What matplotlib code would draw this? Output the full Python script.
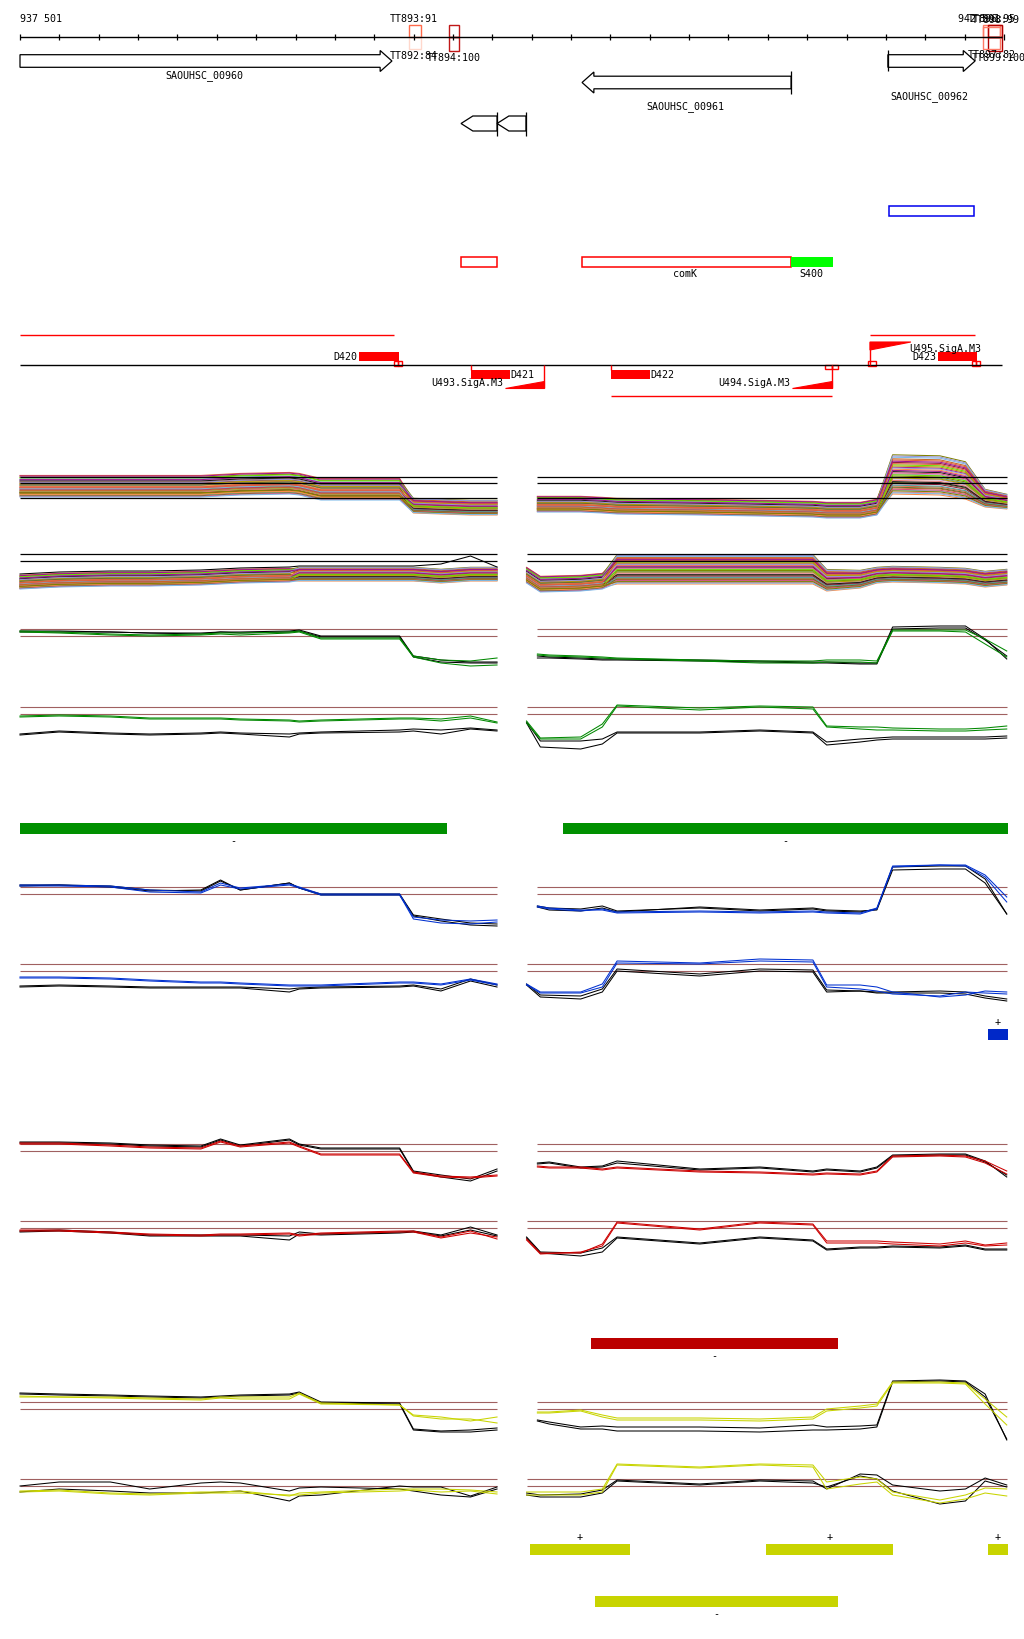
import matplotlib
matplotlib.use("Agg")
import matplotlib.pyplot as plt
from matplotlib.patches import Rectangle, Polygon

# genome window shown by the ruler
VIEW_START = 937501
VIEW_END = 942501
RULER_TICKS = list(range(937501, 942502, 200))

# genes: name, start, end, strand
GENES = [("SAOUHSC_00960", 937501, 939391, 1),
         ("SAOUHSC_00961", 940357, 941419, -1),
         ("SAOUHSC_00962", 941911, 942354, 1)]
SMALL_GENES = [(939742, 939925), (939925, 940072)]

# terminators (name:score)
TERMINATORS = [("TT893:91", 939478, 939539, "#ff6a4a"),
               ("TT894:100", 939681, 939732, "#c01818"),
               ("TT896:95", 942394, 942481, "#ff7a66"),
               ("TT898:99", 942420, 942491, "#ff5a40"),
               ("TT899:100", 942420, 942491, "#b00000")]

# transcript features
COMK_BOXES = [(939742, 939925), (940357, 941419)]
S400 = (941419, 941632)
BLUE_BOX = (941916, 942348)
RED_SEGMENTS = [(937501, 939401, 336), (941820, 942353, 336), (940504, 941627, 397)]
D_BLOCKS = [("D420", 939224, 939427, "up"), ("D421", 939793, 939991, "down"),
            ("D422", 940504, 940702, "down"), ("D423", 942165, 942364, "up")]
SIGA = [("U493.SigA.M3", 939965, 940163, "down"), ("U494.SigA.M3", 941424, 941627, "down"),
        ("U495.SigA.M3", 941820, 942028, "up")]

# probe positions for the expression panels
L_POS = [937501, 937700, 937960, 938160, 938420, 938520, 938620, 938870, 938920, 939030,
         939430, 939500, 939640, 939790, 939925]
RT_POS = [940130, 940190, 940350, 940460, 940535, 940955, 941260, 941530, 941600, 941770,
          941855, 941935, 942175, 942305, 942405, 942515]
RB_POS = [940075, 940145, 940350, 940460, 940535, 940955, 941260, 941530, 941600, 941770,
          941855, 941935, 942175, 942305, 942405, 942515]

# all-condition profiles (top envelope + spread)
MULTI_LT_TOP = [8, 8, 8, 8, 8, 9, 10, 11, 10, 5, 5, -15, -16, -17, -17]
MULTI_LT_SPREAD = [22, 22, 22, 22, 22, 22, 22, 22, 22, 22, 22, 15, 15, 15, 15]
MULTI_LB_TOP = [-14, -12, -11, -11, -10, -9, -8, -7, -6, -6, -6, -6, -8, -6, -6]
MULTI_LB_SPREAD = [14] * 15
MULTI_LB_BLACK = [-13, -11, -10, -10, -9, -8, -7, -6, -5, -5, -5, -5, -3, 5, -6]
MULTI_RT_TOP = [-13, -13, -13, -14, -15, -16, -17, -18, -19, -19, -16, 29, 28, 22, -6, -11]
MULTI_RT_SPREAD = [16, 16, 16, 16, 16, 16, 16, 16, 16, 16, 16, 40, 40, 38, 18, 15]
MULTI_RB_TOP = [-6, -15, -14, -12, 7, 7, 7, 7, -8, -9, -6, -5, -6, -7, -10, -8]
MULTI_RB_SPREAD = [16, 16, 16, 16, 30, 30, 30, 30, 22, 18, 16, 16, 16, 16, 16, 16]
MULTI_FRACS = [0.02, 0.10, 0.05, 0.18, 0.24, 0.13, 0.31, 0.27, 0.36, 0.42, 0.39, 0.47,
               0.51, 0.45, 0.56, 0.60, 0.54, 0.64, 0.68, 0.62, 0.72, 0.75, 0.70, 0.79,
               0.83, 0.77, 0.86, 0.90, 0.88, 0.94, 0.97, 0.33, 0.58, 0.81, 0.21, 1.00]
MULTI_FRACS_B = [0.15, 0.02, 0.33, 0.08, 0.50, 0.27, 0.12, 0.44, 0.21, 0.66, 0.30, 0.58,
                 0.38, 0.71, 0.47, 0.35, 0.80, 0.55, 0.41, 0.90, 0.62, 0.52, 0.85, 0.69,
                 0.74, 0.95, 0.60, 0.78, 1.00, 0.83, 0.88, 0.05, 0.24, 0.92, 0.18, 0.97]
MULTI_COLORS = ['#e0603a', '#808000', '#a0148c', '#7ab8e8', '#b48cc8', '#66dd00',
                '#c86428', '#1a1a1a', '#8c1e3c', '#e87878', '#b4a000', '#50a0a0',
                '#ff8c46', '#6e6e28', '#d25078', '#9696d2']

# condition groups: (black_a, black_b, col_a, col_b) for LT, LB, RT, RB
GREEN_LT = [[5, 5, 4, 3, 3, 4, 4, 5, 6, 0, 0, -20, -24, -26, -26],
            [4, 4, 4, 3, 2, 4, 3, 4, 5, -1, -1, -21, -26, -27, -27],
            [5, 4, 2, 1, 2, 3, 3, 4, 5, -2, -2, -20, -24, -25, -22],
            [4, 3, 1, 0, 1, 2, 1, 3, 4, -3, -3, -21, -27, -30, -29]]
GREEN_LB = [[-20, -17, -19, -20, -19, -18, -19, -20, -19, -18, -16, -15, -16, -14, -16],
            [-21, -18, -20, -21, -20, -19, -20, -23, -20, -19, -18, -17, -20, -15, -17],
            [-2, -1, -2, -4, -4, -4, -5, -6, -7, -6, -4, -4, -5, -2, -8],
            [-3, -2, -3, -5, -5, -5, -6, -7, -8, -7, -5, -5, -7, -4, -9]]
GREEN_RT = [[-20, -21, -22, -23, -23, -24, -25, -26, -26, -27, -27, 9, 10, 10, -3, -23],
            [-22, -22, -23, -24, -24, -25, -26, -27, -27, -28, -28, 7, 8, 8, -4, -20],
            [-18, -19, -20, -21, -22, -24, -25, -25, -24, -24, -25, 6, 6, 6, -3, -15],
            [-19, -20, -21, -22, -23, -25, -27, -27, -26, -26, -27, 5, 5, 4, -8, -21]]
GREEN_RB = [[-8, -27, -27, -25, -18, -18, -16, -18, -28, -25, -24, -23, -23, -23, -23, -22],
            [-9, -33, -35, -30, -19, -19, -17, -19, -31, -28, -26, -25, -25, -25, -25, -24],
            [-7, -24, -23, -10, 9, 6, 8, 7, -12, -13, -13, -14, -15, -15, -14, -12],
            [-9, -25, -25, -13, 8, 4, 7, 5, -13, -15, -16, -16, -17, -17, -16, -15]]

BLUE_LT = [[9, 9, 8, 4, 3, 13, 4, 11, 6, 0, 0, -21, -25, -29, -30],
           [8, 9, 7, 3, 4, 14, 4, 11, 6, -1, -1, -22, -27, -31, -32],
           [9, 9, 8, 4, 2, 11, 6, 10, 7, 0, 0, -23, -26, -27, -26],
           [8, 8, 7, 2, 1, 9, 5, 9, 6, -1, -1, -25, -29, -30, -28]]
BLUE_LB = [[-15, -14, -15, -16, -16, -16, -16, -18, -17, -16, -15, -14, -18, -8, -14],
           [-16, -15, -16, -17, -17, -17, -17, -21, -18, -17, -16, -15, -20, -10, -16],
           [-6, -6, -7, -9, -11, -11, -12, -14, -14, -14, -11, -11, -13, -8, -13],
           [-7, -7, -8, -10, -12, -12, -13, -15, -15, -15, -12, -12, -14, -9, -14]]
BLUE_RT = [[-12, -14, -15, -12, -17, -14, -17, -15, -17, -18, -15, 27, 28, 28, 15, -20],
           [-13, -16, -17, -14, -18, -13, -16, -14, -16, -17, -16, 24, 25, 25, 11, -20],
           [-13, -15, -17, -15, -18, -17, -18, -17, -18, -19, -14, 28, 29, 29, 19, -3],
           [-12, -14, -16, -16, -19, -18, -19, -18, -19, -20, -15, 27, 29, 28, 17, -8]]
BLUE_RB = [[-13, -24, -25, -18, 2, -3, 2, 1, -19, -20, -21, -21, -20, -21, -25, -28],
           [-14, -26, -28, -21, 0, -5, 0, -1, -21, -20, -22, -22, -22, -23, -27, -30],
           [-13, -21, -21, -13, 10, 8, 12, 11, -14, -14, -16, -21, -26, -24, -20, -21],
           [-14, -22, -22, -16, 8, 7, 10, 9, -16, -18, -20, -23, -25, -21, -22, -23]]

RED_LT = [[9, 9, 8, 6, 5, 12, 6, 12, 7, 3, 3, -20, -24, -28, -18],
          [8, 8, 7, 5, 4, 11, 5, 11, 6, 2, 2, -21, -26, -30, -20],
          [8, 8, 6, 4, 3, 10, 5, 9, 5, -3, -3, -21, -25, -26, -24],
          [7, 7, 5, 3, 2, 9, 4, 8, 4, -4, -4, -22, -26, -27, -25]]
RED_LB = [[-3, -2, -4, -7, -7, -7, -7, -8, -4, -6, -4, -3, -7, 1, -7],
          [-4, -3, -5, -8, -8, -8, -8, -12, -6, -7, -5, -4, -8, -2, -8],
          [-2, -2, -4, -6, -7, -6, -6, -5, -7, -5, -3, -3, -9, -3, -11],
          [-3, -3, -5, -7, -8, -7, -7, -6, -8, -6, -4, -4, -10, -5, -9]]
RED_RT = [[-12, -11, -16, -15, -10, -18, -16, -20, -18, -20, -16, -4, -3, -3, -10, -26],
          [-13, -12, -17, -16, -12, -19, -17, -21, -19, -21, -17, -5, -4, -4, -11, -24],
          [-15, -16, -16, -18, -16, -20, -21, -23, -22, -23, -20, -5, -4, -5, -10, -20],
          [-16, -17, -17, -19, -17, -21, -22, -24, -23, -24, -21, -6, -5, -6, -12, -23]]
RED_RB = [[-9, -24, -25, -20, -9, -15, -9, -12, -21, -19, -19, -18, -19, -17, -21, -21],
          [-10, -25, -28, -24, -10, -16, -10, -13, -22, -20, -20, -19, -20, -18, -22, -22],
          [-11, -25, -25, -16, 6, -1, 6, 4, -13, -13, -13, -14, -16, -13, -17, -15],
          [-12, -26, -24, -18, 5, -2, 5, 3, -15, -15, -15, -16, -18, -15, -18, -17]]

YEL_LT = [[16, 15, 14, 13, 12, 13, 14, 15, 17, 7, 6, -20, -22, -21, -19],
          [15, 14, 13, 12, 11, 12, 13, 14, 16, 6, 5, -21, -23, -23, -21],
          [13, 12, 12, 11, 10, 12, 12, 12, 16, 6, 4, -6, -8, -12, -8],
          [12, 12, 11, 10, 9, 11, 10, 10, 15, 5, 4, -7, -10, -10, -14]]
YEL_LB = [[0, 4, 4, -3, 3, 4, 3, -5, -2, -1, -3, -5, -9, -11, -3],
          [-6, -3, -5, -7, -7, -6, -5, -15, -10, -9, 0, -1, -1, -10, -1],
          [-5, -4, -7, -8, -6, -6, -5, -10, -7, -6, -3, -3, -3, -4, -6],
          [-6, -5, -8, -9, -7, -7, -7, -9, -9, -7, -5, -4, -6, -5, -8]]
YEL_RT = [[-11, -13, -18, -17, -18, -18, -19, -16, -18, -17, -16, 28, 29, 28, 15, -31],
          [-12, -15, -20, -20, -22, -22, -23, -21, -21, -20, -18, 27, 28, 27, 12, -30],
          [-3, -3, -1, -6, -9, -9, -10, -8, 0, 3, 5, 27, 27, 26, 10, -8],
          [-4, -4, -2, -8, -11, -11, -12, -10, -2, 1, 3, 26, 26, 25, 5, -16]]
YEL_RB = [[-7, -9, -8, -4, 6, 2, 6, 5, -3, 12, 11, 1, -5, -3, 8, 1],
          [-9, -11, -11, -7, 5, 1, 5, 3, -1, 10, 7, -5, -18, -15, 5, -1],
          [-6, -6, -6, -3, 22, 19, 22, 21, 4, 9, 7, -6, -14, -9, -2, -3],
          [-9, -9, -9, -6, 21, 18, 21, 19, -3, 2, 4, -9, -17, -13, -7, -10]]

# segment calls below each group: (start, end, strand)
GREEN_CALLS = [(937501, 939671, "-"), (940260, 942521, "-")]
BLUE_CALLS = [(942420, 942521, "+")]
RED_CALLS = [(940402, 941657, "-")]
YEL_CALLS = [(940092, 940601, "+"), (941292, 941937, "+"), (942420, 942521, "+"),
             (940423, 941657, "-")]

BP_PER_PX = (VIEW_END - VIEW_START) / 984.0
FONT = dict(family="DejaVu Sans Mono", fontsize=7.2)
BROWN = "#a06060"
LW = 0.75


def gene_poly(start, end, strand, yc, body=6.3, head=10.5, head_len=60):
    if strand > 0:
        b = end - head_len
        pts = [(start, yc - body), (b, yc - body), (b, yc - head), (end, yc),
               (b, yc + head), (b, yc + body), (start, yc + body)]
    else:
        b = start + head_len
        pts = [(end, yc - body), (b, yc - body), (b, yc - head), (start, yc),
               (b, yc + head), (b, yc + body), (end, yc + body)]
    return Polygon(pts, closed=True, fc="white", ec="black", lw=0.9)


def draw_curves(ax, pos, curves, ref, color):
    cols = ["black", "black", color, color]
    for vals, c in zip(curves, cols):
        ax.plot(pos, [ref - v for v in vals], color=c, lw=LW)


def draw_group(ax, data, ref_top, ref_bot, color):
    lt, lb, rt, rb = data
    for pos, ref in [(L_POS, ref_top), (L_POS, ref_bot), (RT_POS, ref_top), (RB_POS, ref_bot)]:
        ax.hlines([ref, ref - 7], pos[0], pos[-1], color=BROWN, lw=0.8)
    draw_curves(ax, L_POS, lt, ref_top, color)
    draw_curves(ax, L_POS, lb, ref_bot, color)
    draw_curves(ax, RT_POS, rt, ref_top, color)
    draw_curves(ax, RB_POS, rb, ref_bot, color)


def draw_multi(ax, pos, top, spread, ref, split):
    # each condition keeps one rank before the split knot and another after it
    for i, (fa, fb) in enumerate(zip(MULTI_FRACS, MULTI_FRACS_B)):
        ys = []
        for k, (t, s) in enumerate(zip(top, spread)):
            f = fa if k < split else fb
            ys.append(ref - (t - f * s))
        ax.plot(pos, ys, color=MULTI_COLORS[i % len(MULTI_COLORS)], lw=LW)


def draw_calls(ax, calls, y0, color):
    for start, end, strand in calls:
        if strand == "+":
            ax.add_patch(Rectangle((start, y0), end - start, 11, fc=color, ec="none"))
            ax.text((start + end) / 2, y0 - 8, "+", ha="center", va="center", **FONT)
        else:
            yy = y0 if len(calls) < 4 else y0 + 52
            ax.add_patch(Rectangle((start, yy), end - start, 11, fc=color, ec="none"))
            ax.text((start + end) / 2, yy + 17, "-", ha="center", va="center", **FONT)


def main():
    fig = plt.figure(figsize=(10.24, 16.4), dpi=100)
    ax = fig.add_axes([0, 0, 1, 1])
    ax.set_xlim(VIEW_START - 20 * BP_PER_PX, VIEW_START + 1004 * BP_PER_PX)
    ax.set_ylim(1640, 0)
    ax.axis("off")

    # ruler
    ax.hlines(38, VIEW_START, 942491, color="black", lw=1.0)
    ax.vlines(RULER_TICKS, 35, 41, color="black", lw=0.9)
    ax.text(VIEW_START, 19, "937 501", ha="left", va="center", **FONT)
    ax.text(942267, 19, "942 501", ha="left", va="center", **FONT)

    # terminators
    for name, s, e, c in TERMINATORS:
        ax.add_patch(Rectangle((s, 26), e - s, 12, fc="none", ec=c, lw=1.0))
    ax.add_patch(Rectangle((939478, 38), 61, 12, fc="none", ec="#ffd8cc", lw=1.0))
    ax.add_patch(Rectangle((939681, 38), 51, 14, fc="none", ec="#c01818", lw=1.0))
    ax.add_patch(Rectangle((942420, 38), 71, 14, fc="none", ec="#b00000", lw=1.0))
    ax.add_patch(Rectangle((942394, 28), 87, 22, fc="none", ec="#ff7a66", lw=1.0))
    ax.text(939381, 19, "TT893:91", ha="left", va="center", **FONT)
    ax.text(939381, 56, "TT892:84", ha="left", va="center", **FONT)
    ax.text(939569, 58, "TT894:100", ha="left", va="center", **FONT)
    ax.text(942318, 19, "TT896:95", ha="left", va="center", **FONT)
    ax.text(942335, 20, "TT898:99", ha="left", va="center", **FONT)
    ax.text(942318, 55, "TT897:82", ha="left", va="center", **FONT)
    ax.text(942335, 58, "TT899:100", ha="left", va="center", **FONT)

    # genes
    ax.add_patch(gene_poly(937501, 939391, 1, 62))
    ax.text(938436, 76, "SAOUHSC_00960", ha="center", va="center", **FONT)
    ax.add_patch(gene_poly(940357, 941419, -1, 83.5))
    ax.vlines(941419, 72, 95, color="black", lw=0.9)
    ax.text(940880, 107, "SAOUHSC_00961", ha="center", va="center", **FONT)
    ax.add_patch(gene_poly(941911, 942354, 1, 62))
    ax.vlines(941911, 51, 72, color="black", lw=0.9)
    ax.text(942120, 97, "SAOUHSC_00962", ha="center", va="center", **FONT)
    for s, e in SMALL_GENES:
        ax.add_patch(gene_poly(s, e, -1, 124.5, body=7.5, head=7.5, head_len=60))
        ax.vlines(e, 113, 137, color="black", lw=0.9)

    # blue box, comK row
    ax.add_patch(Rectangle((BLUE_BOX[0], 207), BLUE_BOX[1] - BLUE_BOX[0], 10,
                           fc="none", ec="#0000ee", lw=1.1))
    for s, e in COMK_BOXES:
        ax.add_patch(Rectangle((s, 258), e - s, 10, fc="none", ec="#ff0000", lw=1.1))
    ax.add_patch(Rectangle((S400[0], 258), S400[1] - S400[0], 10, fc="#00ff00", ec="none"))
    ax.text(940880, 274, "comK", ha="center", va="center", **FONT)
    ax.text(941520, 274, "S400", ha="center", va="center", **FONT)

    # transcription units
    for s, e, y in RED_SEGMENTS:
        ax.hlines(y, s, e, color="#ff0000", lw=1.0)
    ax.hlines(366, VIEW_START, 942491, color="black", lw=1.0)
    for name, s, e, side in D_BLOCKS:
        y = 353 if side == "up" else 371
        ax.add_patch(Rectangle((s, y), e - s, 9, fc="#ff0000", ec="none"))
        if side == "up":
            ax.text(s - 10, y + 4.5, name, ha="right", va="center", **FONT)
            ax.add_patch(Rectangle((e - 25, 362), 20, 4.5, fc="none", ec="#ff0000", lw=1.0))
            ax.add_patch(Rectangle((e - 5, 362), 20, 4.5, fc="none", ec="#ff0000", lw=1.0))
        else:
            ax.text(e, y + 4.5, name, ha="left", va="center", **FONT)
            ax.vlines(s, 366, 371, color="#ff0000", lw=1.0)
    for name, s, e, side in SIGA:
        if side == "down":
            ax.add_patch(Polygon([(s, 389), (e, 389), (e, 382)], closed=True,
                                 fc="#ff0000", ec="#ff0000", lw=0.8))
            ax.vlines(e, 366, 389, color="#ff0000", lw=1.0)
            ax.text(s - 10, 383, name, ha="right", va="center", **FONT)
        else:
            ax.add_patch(Polygon([(s, 343), (e, 343), (s, 351)], closed=True,
                                 fc="#ff0000", ec="#ff0000", lw=0.8))
            ax.vlines(s, 343, 366, color="#ff0000", lw=1.0)
            ax.add_patch(Rectangle((s - 10, 362), 40, 4.5, fc="none", ec="#ff0000", lw=1.0))
            ax.text(e - 10, 349, name, ha="left", va="center", **FONT)
    ax.add_patch(Rectangle((941591, 366), 36, 4, fc="none", ec="#ff0000", lw=1.0))
    ax.add_patch(Rectangle((941627, 366), 31, 4, fc="none", ec="#ff0000", lw=1.0))

    # all conditions
    draw_multi(ax, L_POS, MULTI_LT_TOP, MULTI_LT_SPREAD, 484, 11)
    draw_multi(ax, RT_POS, MULTI_RT_TOP, MULTI_RT_SPREAD, 484, 11)
    draw_multi(ax, L_POS, MULTI_LB_TOP, MULTI_LB_SPREAD, 562, 8)
    draw_multi(ax, RB_POS, MULTI_RB_TOP, MULTI_RB_SPREAD, 562, 4)
    ax.plot(L_POS, [562 - v for v in MULTI_LB_BLACK], color="black", lw=LW)
    for pos in (L_POS, RT_POS):
        ax.hlines([478, 484, 499], pos[0], pos[-1], color="black", lw=0.9)
    for pos in (L_POS, RB_POS):
        ax.hlines([555, 562], pos[0], pos[-1], color="black", lw=0.9)

    # condition groups
    draw_group(ax, (GREEN_LT, GREEN_LB, GREEN_RT, GREEN_RB), 637, 715, "#008800")
    draw_calls(ax, GREEN_CALLS, 824, "#009000")
    draw_group(ax, (BLUE_LT, BLUE_LB, BLUE_RT, BLUE_RB), 895, 972, "#0030d0")
    draw_calls(ax, BLUE_CALLS, 1030, "#0028c8")
    draw_group(ax, (RED_LT, RED_LB, RED_RT, RED_RB), 1152, 1229, "#cc0000")
    draw_calls(ax, RED_CALLS, 1339, "#bb0000")
    draw_group(ax, (YEL_LT, YEL_LB, YEL_RT, YEL_RB), 1410, 1487, "#c8d400")
    draw_calls(ax, YEL_CALLS, 1545, "#c8d400")

    fig.savefig("out.png", dpi=100, facecolor="white")


if __name__ == '__main__':
    main()
